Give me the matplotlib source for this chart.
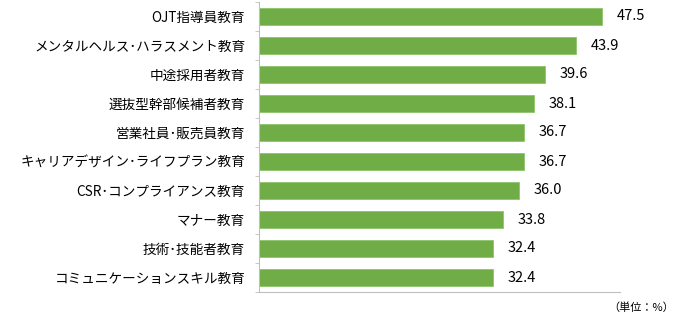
import matplotlib.pyplot as plt

plt.rcParams['font.family'] = ['Noto Sans CJK JP', 'DejaVu Sans']

categories = ['OJT指導員教育', 'メンタルヘルス･ハラスメント教育', '中途採用者教育',
              '選抜型幹部候補者教育', '営業社員･販売員教育', 'キャリアデザイン･ライフプラン教育',
              'CSR･コンプライアンス教育', 'マナー教育', '技術･技能者教育',
              'コミュニケーションスキル教育']
values = [47.5, 43.9, 39.6, 38.1, 36.7, 36.7, 36.0, 33.8, 32.4, 32.4]

fig = plt.figure(figsize=(6.74, 3.23), dpi=100)
ax = fig.add_axes([259 / 674, 1 - 292 / 323, (620 - 259) / 674, 290 / 323])

y = list(range(len(categories)))
ax.barh(y, values, height=0.59, color='#70AD47', edgecolor='#8CC56A', linewidth=0.6)
for yi, v in zip(y, values):
    ax.text(v + 2.0, yi, f'{v:.1f}', va='center', ha='left', fontsize=10.5)

ax.set_ylim(len(categories) - 0.5, -0.5)
ax.set_xlim(0, 50)
ax.set_yticks(y)
ax.set_yticklabels(categories, fontsize=9.8)
ax.set_yticks([i - 0.5 for i in range(len(categories) + 1)], minor=True)
ax.tick_params(axis='y', which='major', length=0, pad=10)
ax.tick_params(axis='y', which='minor', length=3, color='#BFBFBF')
ax.set_xticks([])
for s in ['top', 'right']:
    ax.spines[s].set_visible(False)
ax.spines['left'].set_color('#BFBFBF')
ax.spines['bottom'].set_color('#BFBFBF')

fig.text(674 / 674, 1 - 308 / 323, '（単位：%）', ha='right', va='center', fontsize=8)

fig.savefig('out.png', dpi=100)
